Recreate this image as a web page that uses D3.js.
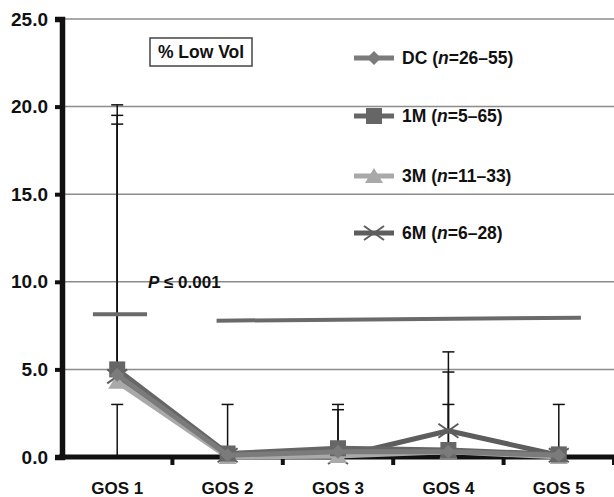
<!DOCTYPE html>
<html>
<head>
<meta charset="utf-8">
<script src="https://cdn.jsdelivr.net/npm/d3@7"></script>
<style>
  body { margin: 0; background: #fff; }
  svg text { font-family: "Liberation Sans", Arial, sans-serif; font-weight: bold; fill: #111; }
</style>
</head>
<body>
<div id="chart"></div>
<script>
// categories and series
const categories = ['GOS 1', 'GOS 2', 'GOS 3', 'GOS 4', 'GOS 5'];
const dcValues = [4.7, 0.1, 0.3, 0.3, 0.1];
const m1Values = [5.0, 0.2, 0.5, 0.4, 0.15];
const m3Values = [4.3, 0.0, 0.05, 0.3, 0.0];
const m6Values = [4.6, 0.1, 0.0, 1.5, 0.1];

// upper error bar ends (null = none drawn)
const dcErrTop = [19.5, null, null, null, null];
const m1ErrTop = [20.1, null, 2.7, 4.85, null];
const m3ErrTop = [null, null, null, null, null];
const m6ErrTop = [19.0, null, null, 6.0, null];
const baseErrTop = [3.0, 3.0, 3.0, 3.0, 3.0];

const yTicks = [0, 5, 10, 15, 20, 25];

// significance lines: [category index from, to, value from, value to]
const sigShort = [-0.22, 0.27, 8.15, 8.15];
const sigLong = [0.9, 4.2, 7.78, 7.95];

const series = [
    {name: 'DC', n: '26–55', values: dcValues, err: dcErrTop, color: '#7b7b7b', marker: 'diamond'},
    {name: '1M', n: '5–65', values: m1Values, err: m1ErrTop, color: '#666666', marker: 'square'},
    {name: '3M', n: '11–33', values: m3Values, err: m3ErrTop, color: '#a9a9a9', marker: 'triangle'},
    {name: '6M', n: '6–28', values: m6Values, err: m6ErrTop, color: '#5d5d5d', marker: 'cross'}
];

const width = 614, height = 497;
const margin = {top: 19, right: 0, bottom: 40, left: 62};

const svg = d3.select('#chart').append('svg')
    .attr('width', width)
    .attr('height', height);

const x = d3.scalePoint()
    .domain(categories)
    .range([margin.left, width - margin.right])
    .padding(0.5);
const step = x.step();
const xi = i => x(categories[0]) + i * step;

const y = d3.scaleLinear()
    .domain([0, 25])
    .range([height - margin.bottom, margin.top]);

// gridlines
svg.append('g')
    .selectAll('line')
    .data(yTicks.filter(d => d > 0))
    .join('line')
    .attr('x1', margin.left)
    .attr('x2', width)
    .attr('y1', d => y(d))
    .attr('y2', d => y(d))
    .attr('stroke', '#8c8c8c')
    .attr('stroke-width', 1.5);

// y axis
const yAxis = svg.append('g')
    .attr('transform', `translate(${margin.left},0)`)
    .call(d3.axisLeft(y).tickValues(yTicks).tickFormat(d3.format('.1f')).tickSize(7).tickPadding(7));
yAxis.select('.domain').attr('stroke', '#111').attr('stroke-width', 5.5);
yAxis.selectAll('.tick line').attr('stroke', '#111').attr('stroke-width', 4);
yAxis.selectAll('.tick text').style('font-size', '19px').attr('fill', '#111');

// x axis with ticks at band boundaries
const xAxisY = y(0);
svg.append('line')
    .attr('x1', margin.left - 3)
    .attr('x2', width)
    .attr('y1', xAxisY)
    .attr('y2', xAxisY)
    .attr('stroke', '#111')
    .attr('stroke-width', 5);
svg.append('g')
    .selectAll('line')
    .data(d3.range(categories.length))
    .join('line')
    .attr('x1', i => xi(i + 0.5))
    .attr('x2', i => xi(i + 0.5))
    .attr('y1', xAxisY)
    .attr('y2', xAxisY + 8)
    .attr('stroke', '#111')
    .attr('stroke-width', 4);
svg.append('g')
    .selectAll('text')
    .data(categories)
    .join('text')
    .attr('x', d => x(d))
    .attr('y', 494)
    .attr('text-anchor', 'middle')
    .style('font-size', '17px')
    .text(d => d);

// error bars
function drawErr(vals, tops) {
    const g = svg.append('g').attr('stroke', '#111').attr('stroke-width', 1.5);
    tops.forEach((t, i) => {
        if (t == null) return;
        const cx = x(categories[i]);
        g.append('line')
            .attr('x1', cx).attr('x2', cx)
            .attr('y1', y(vals[i])).attr('y2', y(t));
        g.append('line')
            .attr('x1', cx - 6).attr('x2', cx + 6)
            .attr('y1', y(t)).attr('y2', y(t));
    });
}
drawErr(categories.map(() => 0), baseErrTop);
series.forEach(s => drawErr(s.values, s.err));

// significance lines
function sigLine(p) {
    svg.append('line')
        .attr('x1', xi(p[0])).attr('x2', xi(p[1]))
        .attr('y1', y(p[2])).attr('y2', y(p[3]))
        .attr('stroke', '#6a6a6a')
        .attr('stroke-width', 4);
}
sigLine(sigShort);
sigLine(sigLong);

const pText = svg.append('text')
    .attr('x', 148)
    .attr('y', y(10) + 6)
    .style('font-size', '17px');
pText.append('tspan').style('font-style', 'italic').text('P');
pText.append('tspan').text(' ≤ 0.001');

// markers
function drawMarker(g, type, cx, cy, color) {
    if (type === 'square') {
        g.append('rect').attr('x', cx - 8).attr('y', cy - 8).attr('width', 16).attr('height', 16).attr('fill', color);
    } else if (type === 'diamond') {
        g.append('path').attr('d', `M${cx},${cy - 7}L${cx + 7},${cy}L${cx},${cy + 7}L${cx - 7},${cy}Z`).attr('fill', color);
    } else if (type === 'triangle') {
        g.append('path').attr('d', `M${cx},${cy - 8}L${cx + 9},${cy + 7}L${cx - 9},${cy + 7}Z`).attr('fill', color);
    } else {
        g.append('path').attr('d', `M${cx - 10},${cy - 7}L${cx + 10},${cy + 7}M${cx - 10},${cy + 7}L${cx + 10},${cy - 7}`)
            .attr('stroke', color).attr('stroke-width', 2);
    }
}

const line = d3.line()
    .x((d, i) => x(categories[i]))
    .y(d => y(d));

// draw in reverse so DC ends up on top, as in the reference
[...series].reverse().forEach(s => {
    const g = svg.append('g');
    g.append('path')
        .datum(s.values)
        .attr('d', line)
        .attr('fill', 'none')
        .attr('stroke', s.color)
        .attr('stroke-width', 5)
        .attr('stroke-linejoin', 'round');
    s.values.forEach((v, i) => drawMarker(g, s.marker, x(categories[i]), y(v), s.color));
});

// legend
const legendRows = [58, 116, 176, 233];
series.forEach((s, i) => {
    const g = svg.append('g');
    const ly = legendRows[i];
    g.append('line')
        .attr('x1', 354).attr('x2', 394)
        .attr('y1', ly).attr('y2', ly)
        .attr('stroke', s.color).attr('stroke-width', 5);
    drawMarker(g, s.marker, 374, ly, s.color);
    const t = g.append('text')
        .attr('x', 402)
        .attr('y', ly + 6)
        .style('font-size', '17.5px');
    t.append('tspan').text(s.name + ' (');
    t.append('tspan').style('font-style', 'italic').text('n');
    t.append('tspan').text('=' + s.n + ')');
});

// "% Low Vol" box
svg.append('rect')
    .attr('x', 150).attr('y', 38)
    .attr('width', 102).attr('height', 28)
    .attr('fill', '#fff')
    .attr('stroke', '#444')
    .attr('stroke-width', 1.5);
svg.append('text')
    .attr('x', 201).attr('y', 58)
    .attr('text-anchor', 'middle')
    .style('font-size', '17.5px')
    .text('% Low Vol');
</script>
</body>
</html>
